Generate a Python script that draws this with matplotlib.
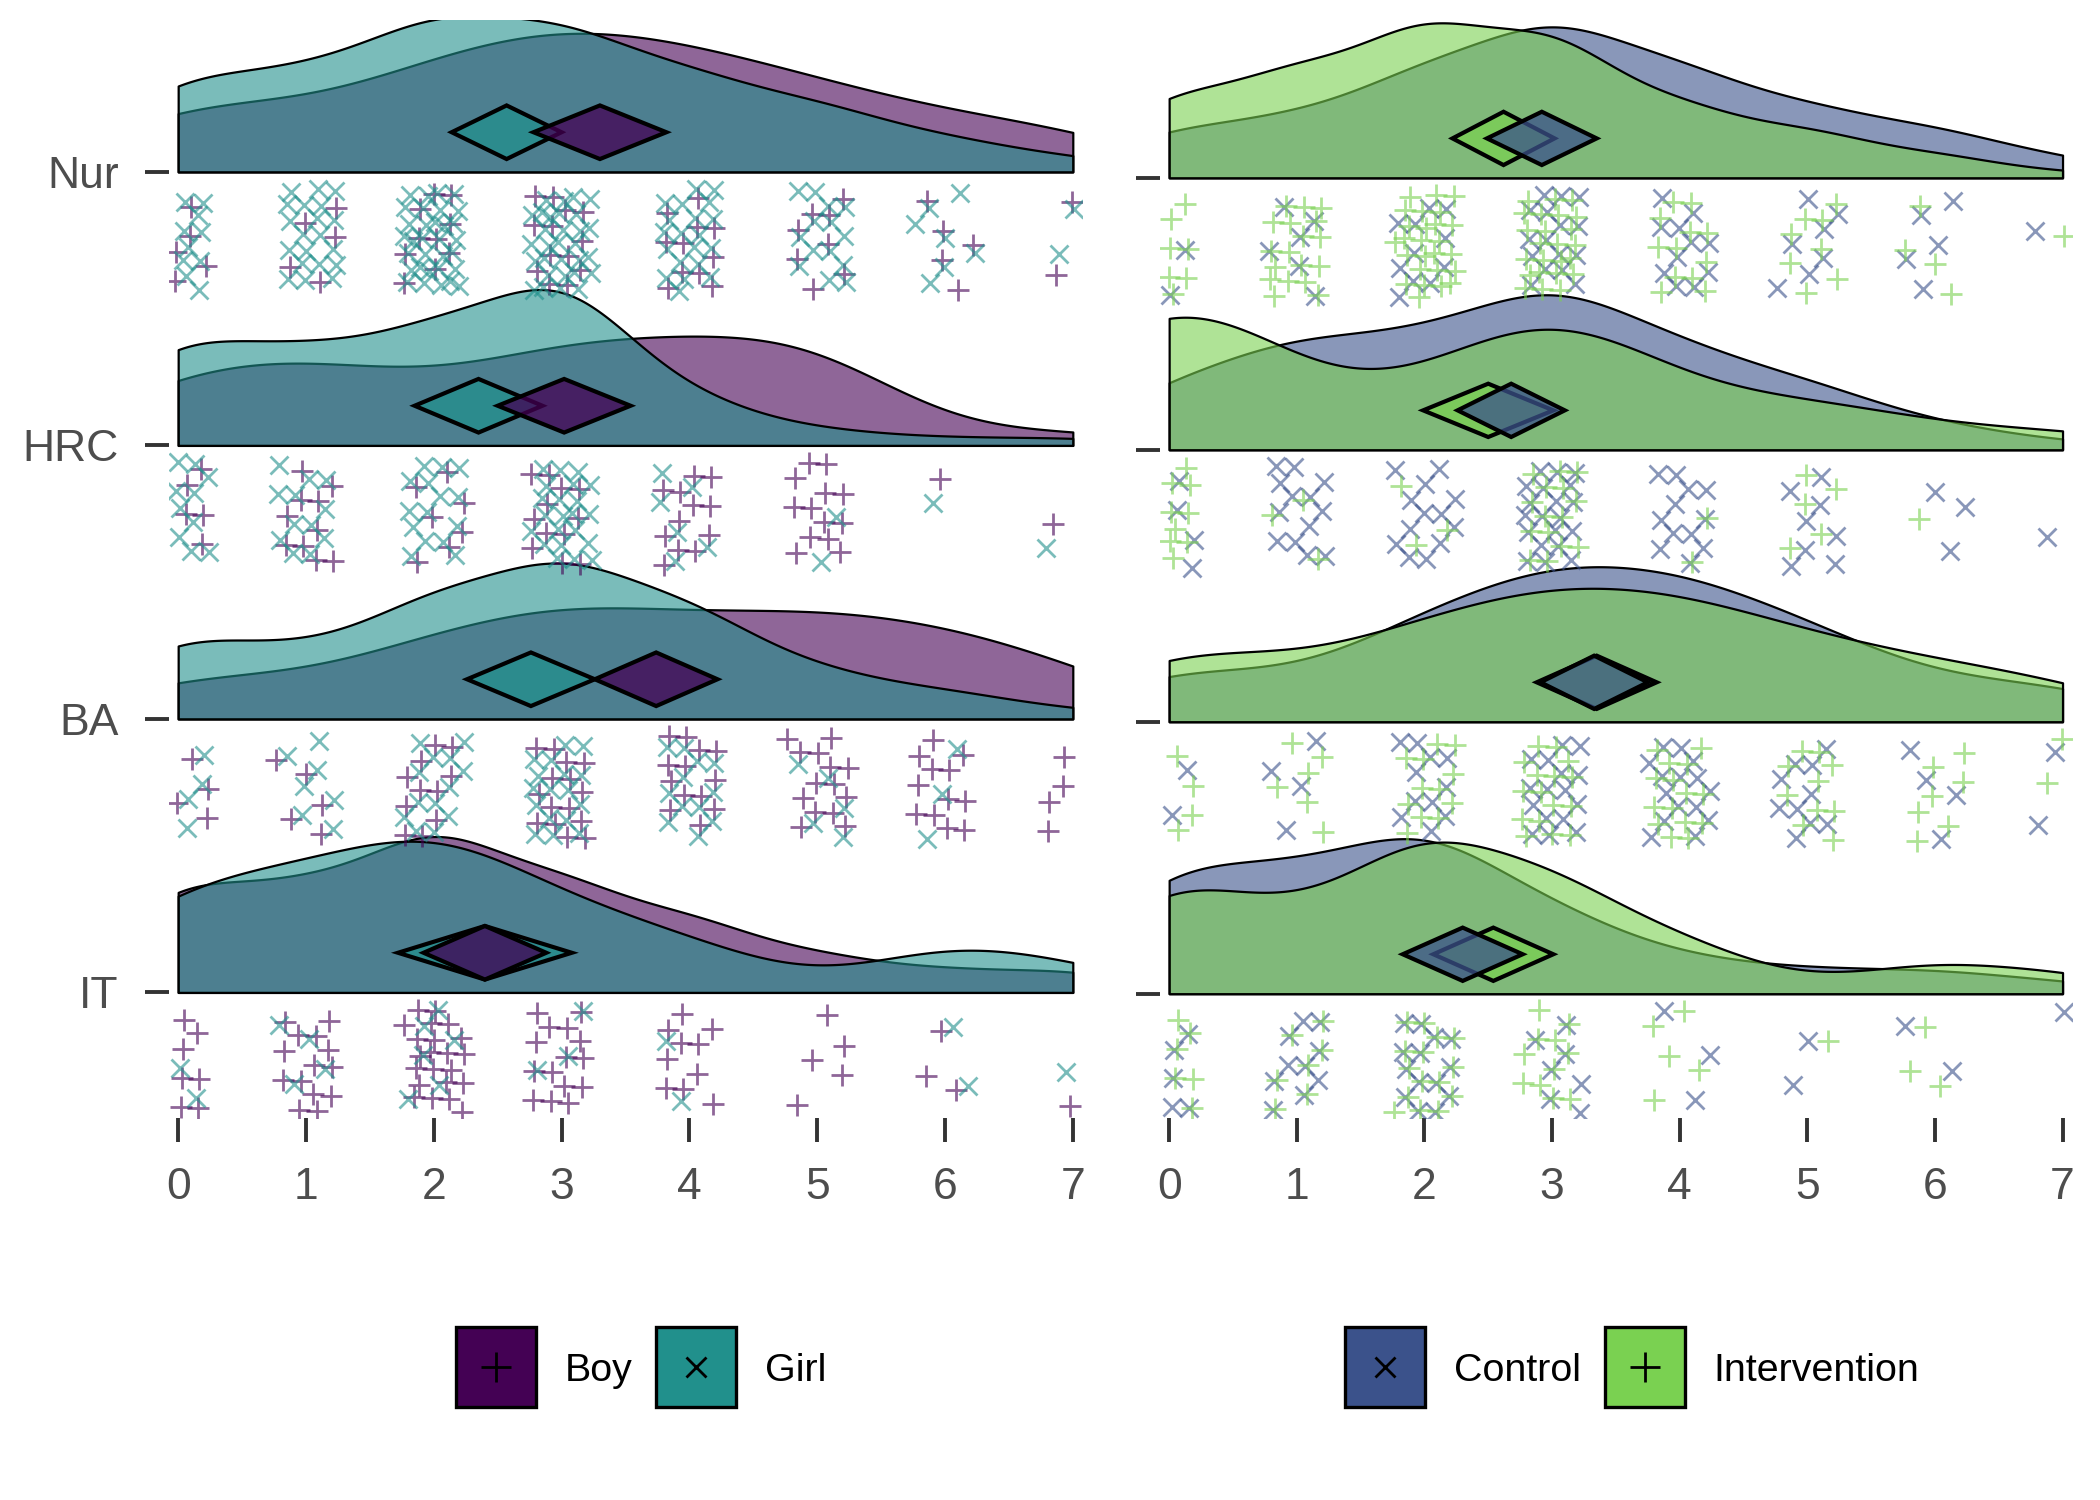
import numpy as np
import matplotlib.pyplot as plt
from matplotlib.colors import to_rgba
from matplotlib.lines import Line2D
from matplotlib.patches import Polygon

plt.rcParams['font.family'] = ['Liberation Sans', 'DejaVu Sans']

# ------------------------------
# data (counts of children per score 0..7), rows: IT, BA, HRC, Nur
# ------------------------------
scores = np.arange(8)
rows = ["IT", "BA", "HRC", "Nur"]

boy_counts = [
    [15, 14, 22, 15, 10, 5, 3, 3],     # IT
    [6, 5, 11, 15, 13, 14, 12, 7],     # BA
    [9, 10, 7, 12, 12, 13, 1, 2],      # HRC
    [7, 5, 10, 13, 11, 8, 5, 4],       # Nur
]
girl_counts = [
    [4, 4, 6, 3, 2, 0, 2, 1],
    [9, 7, 13, 17, 12, 5, 3, 1],
    [14, 12, 15, 22, 6, 2, 1, 1],
    [20, 20, 32, 30, 20, 14, 7, 3],
]
control_counts = [
    [11, 10, 14, 7, 3, 2, 2, 1],
    [6, 4, 11, 16, 15, 10, 4, 4],
    [8, 13, 13, 20, 12, 8, 3, 1],
    [5, 6, 11, 16, 11, 7, 5, 2],
]
intervention_counts = [
    [11, 7, 15, 11, 5, 1, 3, 2],
    [10, 6, 12, 16, 15, 10, 7, 5],
    [18, 3, 3, 15, 2, 5, 1, 2],
    [14, 18, 26, 24, 12, 8, 4, 1],
]

# diamonds: estimate and half width of the interval
boy_mean = [2.40, 3.74, 3.02, 3.30]
boy_ci = [0.48, 0.48, 0.52, 0.52]
girl_mean = [2.40, 2.76, 2.35, 2.57]
girl_ci = [0.68, 0.50, 0.50, 0.43]
control_mean = [2.30, 3.33, 2.68, 2.92]
control_ci = [0.47, 0.42, 0.42, 0.43]
intervention_mean = [2.54, 3.35, 2.50, 2.62]
intervention_ci = [0.47, 0.47, 0.51, 0.40]

BOY, GIRL = "#440154", "#21908C"
CONTROL, INTERVENTION = "#3B528B", "#7AD151"


def bw_nrd0(x):
    sd = np.std(x, ddof=1)
    q75, q25 = np.percentile(x, [75, 25])
    lo = min(sd, (q75 - q25) / 1.34)
    if lo <= 0:
        lo = sd
    return 0.9 * lo * len(x) ** -0.2


def density(counts, grid):
    x = np.repeat(scores, counts).astype(float)
    bw = bw_nrd0(x)
    d = np.exp(-0.5 * ((grid[:, None] - x[None, :]) / bw) ** 2).sum(axis=1)
    return d / (len(x) * bw * np.sqrt(2 * np.pi))


# deterministic jitter (R2 low discrepancy sequence)
R2_A1 = 1 / 1.32471795724
R2_A2 = R2_A1 ** 2


def draw_points(ax, counts, marker, color, ms, start):
    i = start
    xs, ys = [], []
    for r, c in enumerate(counts):
        for s, n in zip(scores, c):
            for k in range(n):
                i += 1
                dx = ((0.5 + i * R2_A1) % 1 - 0.5) * 0.48
                dy = ((0.5 + i * R2_A2) % 1 - 0.5) * 0.38
                x = s + dx
                if -0.03 <= x <= 7.03:
                    xs.append(x)
                    ys.append(r + 1 - 0.25 + dy)
    ax.plot(xs, ys, ls='', marker=marker, ms=ms, mew=1.0, color=color,
            alpha=0.6, zorder=4)
    return i


def panel(ax, groups, diamond_order, ylim):
    grid = np.linspace(0, 7, 400)
    for r in range(4):
        b = r + 1
        dens = [density(g[1][r], grid) for g in groups]
        scale = 0.57 / max(d.max() for d in dens)
        for (name, cnt, col, mean, ci, mk, ms), d in zip(groups, dens):
            ax.fill_between(grid, b, b + d * scale, facecolor=to_rgba(col, 0.6),
                            edgecolor='black', lw=0.8, zorder=2)
        for gi in diamond_order:
            name, cnt, col, mean, ci, mk, ms = groups[gi]
            m, h = mean[r], ci[r]
            c, v = b + 0.145, 0.098
            ax.add_patch(Polygon([(m - h, c), (m, c + v), (m + h, c), (m, c - v)],
                                 closed=True, facecolor=to_rgba(col, 0.75),
                                 edgecolor='black', lw=1.5, zorder=3))
    start = 0
    for name, cnt, col, mean, ci, mk, ms in groups:
        start = draw_points(ax, cnt, mk, col, ms, start + 7)

    ax.set_xlim(-0.073, 7.073)
    ax.set_ylim(*ylim)
    for sp in ax.spines.values():
        sp.set_visible(False)
    ax.set_xticks(range(8))
    ax.set_yticks([1, 2, 3, 4])
    ax.tick_params(axis='both', length=8.5, width=1.4, color='#333333',
                   labelcolor='#4D4D4D', labelsize=16)
    ax.tick_params(axis='x', pad=9)
    ax.tick_params(axis='y', pad=9.5)


fig = plt.figure(figsize=(10.5, 7.5), dpi=200)
ax1 = fig.add_axes([0.0804, 0.2545, 0.4349, 0.7321])
ax2 = fig.add_axes([0.5523, 0.2545, 0.4343, 0.7321])

left_groups = [
    ("Boy", boy_counts, BOY, boy_mean, boy_ci, '+', 8),
    ("Girl", girl_counts, GIRL, girl_mean, girl_ci, 'x', 6.5),
]
right_groups = [
    ("Control", control_counts, CONTROL, control_mean, control_ci, 'x', 6.5),
    ("Intervention", intervention_counts, INTERVENTION, intervention_mean,
     intervention_ci, '+', 8),
]

panel(ax1, left_groups, [1, 0], (0.54, 4.555))
panel(ax2, right_groups, [1, 0], (0.542, 4.58))
ax1.set_yticklabels(rows)
ax2.set_yticklabels([])


def legend_handles(groups):
    hs, labels = [], []
    for name, cnt, col, mean, ci, mk, ms in groups:
        box = Line2D([], [], ls='', marker='s', ms=29, mfc=col, mec='black', mew=1.2)
        sym = Line2D([], [], ls='', marker=mk, ms=11 if mk == '+' else 7.5,
                     color='black', mew=1.0)
        hs.append((box, sym))
        labels.append(name)
    return hs, labels


for groups, cx in [(left_groups, 0.305), (right_groups, 0.777)]:
    hs, labels = legend_handles(groups)
    fig.legend(hs, labels, loc='center', bbox_to_anchor=(cx, 0.086), ncol=2,
               frameon=False, fontsize=14.2, handlelength=2.1, handletextpad=0.7,
               columnspacing=0.55)

fig.savefig("out.png", dpi=200, facecolor='white')
